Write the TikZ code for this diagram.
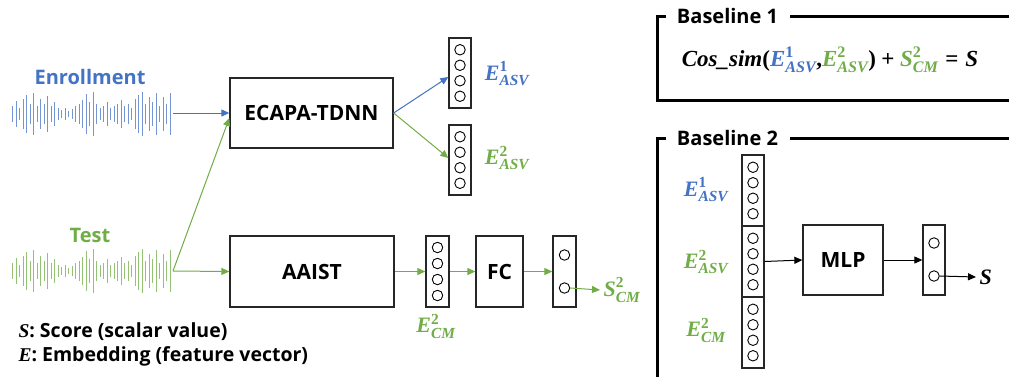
\documentclass[tikz,border=0pt]{standalone}
\usepackage{amsmath}
\usepackage{fontspec}
\setmainfont{Open Sans}
\newfontfamily\cambriaf{Liberation Serif}
\newcommand{\mb}[1]{\text{\cambriaf\bfseries\itshape #1}}
\newcommand{\mbu}[1]{\text{\cambriaf\bfseries #1}}
\usetikzlibrary{arrows.meta}
\definecolor{cblue}{HTML}{4472C4}
\definecolor{cgreen}{HTML}{70AD47}
\begin{document}
\begin{tikzpicture}[x=1pt,y=-1pt,
  box/.style={draw=black!85, line width=1.3pt, inner sep=0pt},
  circ/.style={circle, draw=black, line width=0.9pt, minimum size=10.5pt, inner sep=0pt},
  arr/.style={line width=1pt, -{Triangle[length=8pt,width=7pt]}},
  lbl/.style={font=\fontsize{21}{24}\selectfont\bfseries},
  ttl/.style={font=\fontsize{20}{24}\selectfont\bfseries},
  mth/.style={font=\fontsize{22}{24}\selectfont},
  legend/.style={font=\fontsize{19.5}{22}\selectfont\bfseries, anchor=west},
  frm/.style={line width=3pt, black},
  wave/.style={line width=0.9pt}]
\useasboundingbox (0,0) rectangle (1009,376);

% ---------- waveforms ----------
\def\heights{8,13,6,15,19,10,21,8,15,10,18,8,12,6,4,6,3,5,8,10,14,20,12,22,10,6,8,12,6,8,10,14,8,10,6,15,19,22,10,17,12,21,8,17,10,21}
\foreach \h [count=\i] in \heights {
  \draw[wave, cblue!75] ({9+\i*3.5},{114-\h}) -- ({9+\i*3.5},{114+\h});
  \draw[wave, cgreen!75] ({9+\i*3.5},{271-\h}) -- ({9+\i*3.5},{271+\h});
}
\coordinate (enrEnd) at (173,113);
\coordinate (testEnd) at (173,271);
\node[ttl, text=cblue] (enr) at (90,77) {Enrollment};
\node[ttl, text=cgreen] (test) at (90,235) {Test};

% ---------- main boxes ----------
\node[box, lbl, minimum width=163pt, minimum height=70pt] (ecapa) at (311.5,113) {ECAPA-TDNN};
\node[box, lbl, minimum width=164pt, minimum height=71pt] (aaist) at (312,271.5) {AAIST};
\node[box, lbl, minimum width=47pt, minimum height=71pt] (fc) at (499.5,271.5) {FC};

% ---------- embedding vectors ----------
\node[box, minimum width=22pt, minimum height=70pt] (e1) at (460,73) {};
\foreach \d [count=\k] in {-23.25,-7.75,7.75,23.25}
  \node[circ] (e1c\k) at (460,{73+\d}) {};
\node[box, minimum width=22pt, minimum height=70pt] (e2) at (460,160) {};
\foreach \d [count=\k] in {-23.25,-7.75,7.75,23.25}
  \node[circ] (e2c\k) at (460,{160+\d}) {};
\node[box, minimum width=23pt, minimum height=71pt] (ecm) at (437.5,271.5) {};
\foreach \d [count=\k] in {-24,-8,8,24}
  \node[circ] (ecmc\k) at (437.5,{271.5+\d}) {};
\node[box, minimum width=23pt, minimum height=71pt] (outv) at (564.5,271.5) {};
\node[circ] (o1) at (564.5,255) {};
\node[circ] (o2) at (564.5,288) {};

% labels
\node[mth, text=cblue] (le1) at (507,74) {$\mb{E}^{\mbu{1}}_{\mb{ASV}}$};
\node[mth, text=cgreen] (le2) at (507,158) {$\mb{E}^{\mbu{2}}_{\mb{ASV}}$};
\node[mth, text=cgreen] (lecm) at (436,326) {$\mb{E}^{\mbu{2}}_{\mb{CM}}$};
\node[mth, text=cgreen, anchor=west] (scm) at (600,290) {$\mb{S}^{\mbu{2}}_{\mb{CM}}$};

% ---------- connectors ----------
\draw[arr, cblue] (enrEnd) -- (ecapa.west);
\draw[arr, cgreen] (testEnd) -- (aaist.west);
\draw[arr, cgreen] (testEnd) -- ([yshift=-5pt]ecapa.west);
\draw[arr, cblue] (ecapa.east) -- ([yshift=-4pt]e1.west);
\draw[arr, cgreen] (ecapa.east) -- ([yshift=2pt]e2.west);
\draw[arr, cgreen] (aaist.east) -- (ecm.west);
\draw[arr, cgreen] (ecm.east) -- (fc.west);
\draw[arr, cgreen] (fc.east) -- (outv.west);
\draw[arr, cgreen] (o2.east) -- (scm.west);

% ---------- legend ----------
\node[legend] (leg1) at (15,332) {{\cambriaf\itshape S}: Score (scalar value)};
\node[legend] (leg2) at (15,356) {{\cambriaf\itshape E}: Embedding (feature vector)};

% ---------- Baseline 1 ----------
\node[ttl] (b1) at (727.5,16) {Baseline 1};
\draw[frm] (666,16) -- (657,16) -- (657,100) -- (1012,100);
\draw[frm] (790,16) -- (1012,16);
\node[mth, font=\fontsize{23}{26}\selectfont] (formula) at (830,60) {$\mb{Cos\_sim}\mbu{(}{\color{cblue}\mb{E}^{\mbu{1}}_{\mb{ASV}}}\mbu{,}{\color{cgreen}\mb{E}^{\mbu{2}}_{\mb{ASV}}}\mbu{)}\mathbin{\mbu{+}}{\color{cgreen}\mb{S}^{\mbu{2}}_{\mb{CM}}}\mathrel{\mbu{=}}\mb{S}$};

% ---------- Baseline 2 ----------
\node[ttl] (b2) at (727.5,138) {Baseline 2};
\draw[frm] (666,138) -- (657,138) -- (657,380);
\draw[frm] (790,138) -- (1012,138);

\node[box, minimum width=22pt, minimum height=71pt] (s1) at (753,190.5) {};
\node[box, minimum width=22pt, minimum height=71pt] (s2) at (753,261.5) {};
\node[box, minimum width=22pt, minimum height=71pt] (s3) at (753,332.5) {};
\foreach \s in {s1,s2,s3}
  \foreach \d [count=\k] in {-23.25,-7.75,7.75,23.25}
    \node[circ] (\s c\k) at ([yshift=-\d pt]\s.center) {};
\node[mth, text=cblue] (bl1) at (706,190) {$\mb{E}^{\mbu{1}}_{\mb{ASV}}$};
\node[mth, text=cgreen] (bl2) at (706,262) {$\mb{E}^{\mbu{2}}_{\mb{ASV}}$};
\node[mth, text=cgreen] (bl3) at (706,330) {$\mb{E}^{\mbu{2}}_{\mb{CM}}$};

\node[box, lbl, minimum width=80pt, minimum height=70pt] (mlp) at (843,260) {MLP};
\node[box, minimum width=22pt, minimum height=70pt] (out2) at (934,260) {};
\node[circ] (p1) at (934,243) {};
\node[circ] (p2) at (934,276) {};
\node[mth, anchor=west] (sout) at (976,277) {$\mb{S}$};

\draw[arr, black] (s2.east) -- (mlp.west);
\draw[arr, black] (mlp.east) -- (out2.west);
\draw[arr, black] (p2.east) -- (sout.west);
\end{tikzpicture}
\end{document}
